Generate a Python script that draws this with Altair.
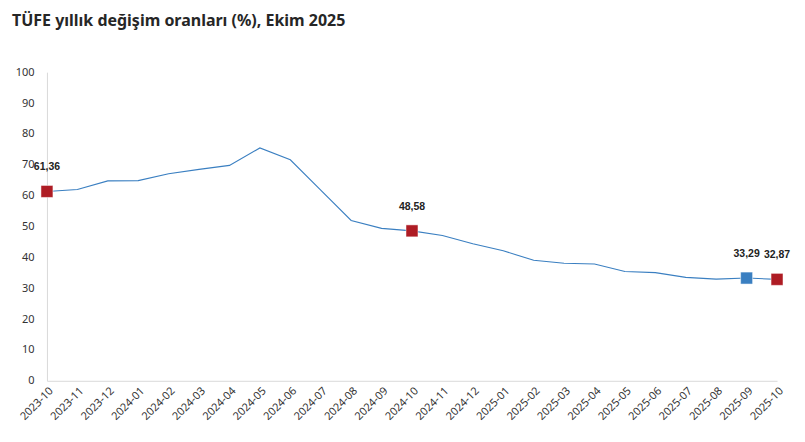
import altair as alt
import pandas as pd

months = ["2023-10","2023-11","2023-12","2024-01","2024-02","2024-03","2024-04","2024-05",
          "2024-06","2024-07","2024-08","2024-09","2024-10","2024-11","2024-12","2025-01",
          "2025-02","2025-03","2025-04","2025-05","2025-06","2025-07","2025-08","2025-09","2025-10"]
values = [61.36,61.98,64.77,64.86,67.07,68.50,69.80,75.45,71.60,61.78,51.97,49.38,48.58,
          47.09,44.38,42.12,39.05,38.10,37.86,35.41,35.05,33.52,32.95,33.29,32.87]

hl_months = ["2023-10","2024-10","2025-09","2025-10"]
hl_kind = ["red","red","blue","red"]

df = pd.DataFrame({"month": months, "value": values})
hl = df[df["month"].isin(hl_months)].copy()
hl["kind"] = [hl_kind[hl_months.index(m)] for m in hl["month"]]
hl["label"] = [f"{v:.2f}".replace(".", ",") for v in hl["value"]]

x = alt.X("month:O", scale=alt.Scale(type="point", padding=0),
          axis=alt.Axis(title=None, labelAngle=-45, labelFontSize=11, labelColor="#333333",
                        labelFont="Noto Sans", domainColor="#d9d9d9", ticks=False, labelPadding=4))
y = alt.Y("value:Q", scale=alt.Scale(domain=[0, 100]),
          axis=alt.Axis(title=None, values=list(range(0, 101, 10)), grid=False, ticks=False,
                        labelFontSize=11, labelColor="#333333", labelFont="Noto Sans",
                        domainColor="#d9d9d9", labelPadding=13))

line = alt.Chart(df).mark_line(color="#3a7fc1", strokeWidth=1.1).encode(x=x, y=y)
pts = alt.Chart(hl).mark_square(size=144, opacity=1, stroke="white", strokeWidth=0.5).encode(
    x=x, y=y,
    color=alt.Color("kind:N", scale=alt.Scale(domain=["red", "blue"], range=["#ae1c24", "#3a7fc1"]), legend=None))
labels = alt.Chart(hl).mark_text(dy=-24, fontSize=10.5, fontWeight="bold", font="Liberation Sans",
                                 color="#222222").encode(x=x, y=y, text="label:N")

chart = (line + pts + labels).properties(
    width=731, height=309,
    autosize=alt.AutoSizeParams(type="none"),
    padding={"left": 39, "top": 64, "right": 20, "bottom": 50},
    title=alt.TitleParams("TÜFE yıllık değişim oranları (%), Ekim 2025", anchor="start", frame="group",
                          dx=-35, offset=37, fontSize=16, fontWeight="bold", font="Noto Sans",
                          color="#262626"),
).configure_view(stroke=None)

chart.save("out.html", embed_options={"renderer": "svg", "actions": False})
